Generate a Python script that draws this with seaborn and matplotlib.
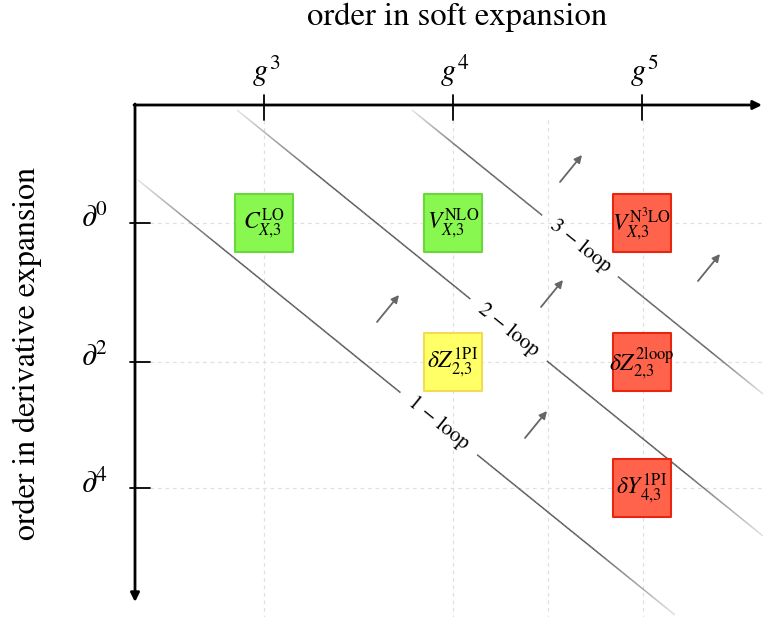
import numpy as np
import pandas as pd
import matplotlib
matplotlib.use("Agg")
import matplotlib.pyplot as plt
import seaborn as sns
from matplotlib.collections import LineCollection

# ---------------- data ----------------
soft_labels = [r"$g^3$", r"$g^4$", r"$g^5$"]
deriv_labels = [r"$\partial^0$", r"$\partial^2$", r"$\partial^4$"]

box_labels = [r"$C_{X{,}3}^{\mathrm{LO}}$", r"$V_{X{,}3}^{\mathrm{NLO}}$",
              r"$V_{X{,}3}^{\mathrm{N^3LO}}$", r"$\delta Z_{2{,}3}^{\mathrm{1PI}}$",
              r"$\delta Z_{2{,}3}^{\mathrm{2loop}}$", r"$\delta Y_{4{,}3}^{\mathrm{1PI}}$"]
box_col = [0, 1, 2, 1, 2, 2]
box_row = [0, 0, 0, 1, 1, 2]
box_status = ["known", "known", "new", "partial", "new", "new"]

loop_labels = ["1 \u2212 loop", "2 \u2212 loop", "3 \u2212 loop"]

# ---------------- layout (pixel canvas) ----------------
W, H = 764, 617
col_px = [264, 453, 642]
row_px = [223, 362, 488]
grid_x = [264, 453, 548, 643]
ax_x0, ax_y0 = 135, 105

fill = {"known": "#88f74f", "partial": "#ffff66", "new": "#ff634b"}
edge = {"known": "#6ad83a", "partial": "#f2dc55", "new": "#e8260f"}

sns.set_theme(style="white")
plt.rcParams["mathtext.fontset"] = "stix"
plt.rcParams["font.family"] = ["STIXGeneral", "DejaVu Serif"]
plt.rcParams["text.color"] = "black"

fig = plt.figure(figsize=(W / 100, H / 100), dpi=100)
ax = fig.add_axes([0, 0, 1, 1])
ax.set_xlim(0, W)
ax.set_ylim(H, 0)
ax.axis("off")

# grid
for gx in grid_x:
    ax.plot([gx, gx], [120, H], color="#e0e0e0", lw=0.9, ls=(0, (3, 3)), zorder=0)
for ry in row_px:
    ax.plot([150, W], [ry, ry], color="#e0e0e0", lw=0.9, ls=(0, (3, 3)), zorder=0)

# loop lines with faded ends
lines = [((138, 180), (675, 615), (400, 477)),
         ((237, 110), (763, 536), (470, 547)),
         ((412, 110), (763, 394), (542, 618))]
for (p0, p1, gap), lab in zip(lines, loop_labels):
    n = 400
    xs = np.linspace(p0[0], p1[0], n)
    ys = p0[1] + (xs - p0[0]) * (p1[1] - p0[1]) / (p1[0] - p0[0])
    t = np.linspace(0, 1, n)
    alpha = np.clip(np.minimum(t / 0.15, (1 - t) / 0.15), 0, 1) * 0.8 + 0.15
    segs, cols = [], []
    for i in range(n - 1):
        xm = 0.5 * (xs[i] + xs[i + 1])
        if gap[0] < xm < gap[1]:
            continue
        segs.append([(xs[i], ys[i]), (xs[i + 1], ys[i + 1])])
        cols.append((0.3, 0.3, 0.3, alpha[i]))
    ax.add_collection(LineCollection(segs, colors=cols, linewidths=1.1, zorder=1))
    gm = 0.5 * (gap[0] + gap[1])
    gy = p0[1] + (gm - p0[0]) * (p1[1] - p0[1]) / (p1[0] - p0[0])
    ang = -np.degrees(np.arctan((p1[1] - p0[1]) / (p1[0] - p0[0])))
    ax.text(gm, gy, lab, fontsize=15, rotation=ang, ha="center", va="center",
            rotation_mode="anchor", zorder=3)

# small arrows
arrow_starts = [(377, 322), (525, 438), (541, 307), (560, 182), (698, 281)]
for sx, sy in arrow_starts:
    ax.annotate("", xy=(sx + 22, sy - 27), xytext=(sx, sy),
                arrowprops=dict(arrowstyle="-|>", color="#666666", lw=1.3,
                                mutation_scale=11, shrinkA=0, shrinkB=0), zorder=2)

# boxes via seaborn
df = pd.DataFrame({
    "x": [col_px[c] for c in box_col],
    "y": [row_px[r] for r in box_row],
    "status": box_status,
    "label": box_labels,
})
sns.scatterplot(data=df, x="x", y="y", hue="status", palette=fill, marker="s",
                s=42 ** 2, linewidth=1.5, legend=False, ax=ax, zorder=4)
coll = ax.collections[-1]
coll.set_edgecolors([edge[s] for s in df["status"]])
ax.set_xlim(0, W)
ax.set_ylim(H, 0)
ax.axis("off")
for _, r in df.iterrows():
    ax.text(r["x"], r["y"] + 1, r["label"], fontsize=17, ha="center", va="center", zorder=5)

# axes arrows
ax.annotate("", xy=(762, ax_y0), xytext=(ax_x0 - 1, ax_y0),
            arrowprops=dict(arrowstyle="-|>", color="black", lw=2.0,
                            mutation_scale=13, shrinkA=0, shrinkB=0), zorder=6)
ax.annotate("", xy=(ax_x0, 602), xytext=(ax_x0, ax_y0 - 1),
            arrowprops=dict(arrowstyle="-|>", color="black", lw=2.0,
                            mutation_scale=13, shrinkA=0, shrinkB=0), zorder=6)
for cx, lab in zip(col_px, soft_labels):
    ax.plot([cx, cx], [95, 120], color="black", lw=1.3, zorder=6)
    ax.text(cx + 2, 71, lab, fontsize=22, ha="center", va="center")
for ry, lab in zip(row_px, deriv_labels):
    ax.plot([130, 150], [ry, ry], color="black", lw=1.3, zorder=6)
    ax.text(94, ry - 4, lab, fontsize=22, ha="center", va="center")

ax.text(457, 17, "order in soft expansion", fontsize=23.5, ha="center", va="center")
ax.text(27, 354, "order in derivative expansion", fontsize=23, ha="center",
        va="center", rotation=90)

fig.savefig("out.png", dpi=100)
